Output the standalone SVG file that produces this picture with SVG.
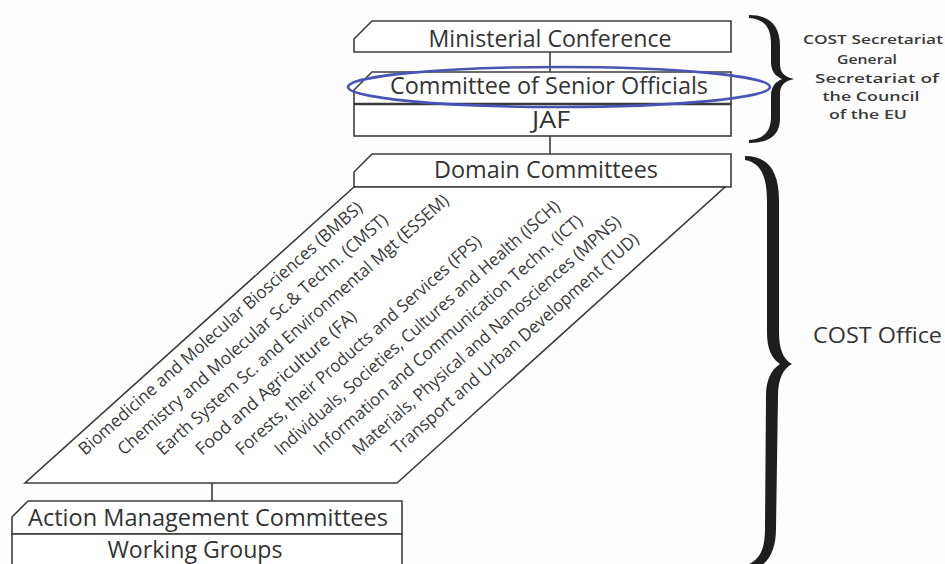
<svg xmlns="http://www.w3.org/2000/svg" width="945" height="564" viewBox="0 0 945 564">
  <style>
    .box { fill: #ffffff; stroke: #3c3c3c; stroke-width: 1.6; stroke-linejoin: miter; }
    .conn { stroke: #3c3c3c; stroke-width: 1.6; fill: none; }
    .lbl { font-family: "Open Sans", "Noto Sans", "Liberation Sans", sans-serif; font-size: 23px; fill: #333333; text-anchor: middle; }
    .diag { font-family: "Open Sans", "Noto Sans", "Liberation Sans", sans-serif; font-size: 17.5px; fill: #3a3a3a; }
    .side { font-family: "Open Sans", "Noto Sans", "Liberation Sans", sans-serif; font-size: 13px; font-weight: 600; fill: #3a3a3a; text-anchor: middle; }
    .office { font-family: "Open Sans", "Noto Sans", "Liberation Sans", sans-serif; font-size: 22px; fill: #333333; }
    .brace { fill: #1e1e1e; }
  </style>
  <rect x="0" y="0" width="945" height="564" fill="#fdfdfd"/>

  <g id="connectors">
    <line class="conn" x1="550" y1="52" x2="550" y2="72"/>
    <line class="conn" x1="550" y1="136" x2="550" y2="154"/>
    <line class="conn" x1="212" y1="483" x2="212" y2="501"/>
  </g>

  <g id="node-ministerial-conference">
    <path class="box" d="M372,21 H731 V52 H354 V39 Z"/>
    <text class="lbl" x="550" y="47" textLength="243" lengthAdjust="spacingAndGlyphs">Ministerial Conference</text>
  </g>

  <g id="node-committee-senior-officials">
    <path class="box" d="M372,72 H731 V104 H354 V90 Z"/>
    <text class="lbl" x="549" y="94" textLength="318" lengthAdjust="spacingAndGlyphs">Committee of Senior Officials</text>
  </g>

  <g id="node-jaf">
    <rect class="box" x="354" y="104" width="377" height="32"/>
    <line x1="354" y1="104" x2="731" y2="104" stroke="#3c3c3c" stroke-width="2.6"/>
    <text class="lbl" x="551" y="128" textLength="38" lengthAdjust="spacingAndGlyphs">JAF</text>
  </g>

  <g id="node-domain-committees">
    <path class="box" d="M372,154 H731 V187 H354 V172 Z"/>
    <text class="lbl" x="546" y="178" textLength="224" lengthAdjust="spacingAndGlyphs">Domain Committees</text>
  </g>

  <g id="node-domains">
    <path class="box" d="M354,187 L725,187 L397,483 L25,483 Z"/>
    <text class="diag" x="85" y="456" transform="rotate(-41.5 85 456)" textLength="372" lengthAdjust="spacingAndGlyphs">Biomedicine and Molecular Biosciences (BMBS)</text>
    <text class="diag" x="124" y="456" transform="rotate(-41.5 124 456)" textLength="354" lengthAdjust="spacingAndGlyphs">Chemistry and Molecular Sc.&amp; Techn. (CMST)</text>
    <text class="diag" x="163" y="456" transform="rotate(-41.5 163 456)" textLength="383" lengthAdjust="spacingAndGlyphs">Earth System Sc. and Environmental Mgt (ESSEM)</text>
    <text class="diag" x="202" y="456" transform="rotate(-41.5 202 456)" textLength="208" lengthAdjust="spacingAndGlyphs">Food and Agriculture (FA)</text>
    <text class="diag" x="242" y="456" transform="rotate(-41.5 242 456)" textLength="321" lengthAdjust="spacingAndGlyphs">Forests, their Products and Services (FPS)</text>
    <text class="diag" x="281" y="456" transform="rotate(-41.5 281 456)" textLength="374" lengthAdjust="spacingAndGlyphs">Individuals, Societies, Cultures and Health (ISCH)</text>
    <text class="diag" x="320" y="456" transform="rotate(-41.5 320 456)" textLength="352" lengthAdjust="spacingAndGlyphs">Information and Communication Techn. (ICT)</text>
    <text class="diag" x="359" y="456" transform="rotate(-41.5 359 456)" textLength="351" lengthAdjust="spacingAndGlyphs">Materials, Physical and Nanosciences (MPNS)</text>
    <text class="diag" x="398" y="455" transform="rotate(-41.5 398 455)" textLength="323" lengthAdjust="spacingAndGlyphs">Transport and Urban Development (TUD)</text>
  </g>

  <g id="node-action-management-committees">
    <path class="box" d="M28,501 H402 V534 H12 V517 Z"/>
    <text class="lbl" x="208" y="526" textLength="360" lengthAdjust="spacingAndGlyphs">Action Management Committees</text>
  </g>

  <g id="node-working-groups">
    <rect class="box" x="12" y="534" width="390" height="40"/>
    <text class="lbl" x="195" y="558" textLength="175" lengthAdjust="spacingAndGlyphs">Working Groups</text>
  </g>

  <ellipse id="highlight" cx="559" cy="87" rx="211" ry="20" fill="none" stroke="#4a54b4" stroke-width="2.6"/>

  <g id="brace-secretariat">
    <path class="brace" d="M749,15 C769,15 780,25 780,46 L780,64 C780,72 784,77 794,79 C784,81 780,86 780,94 L780,118 C780,135 770,143 749,143 L749,140 C764,139 771,131 771,117 L771,96 C771,87 775,82 782,79 C775,76 771,71 771,62 L771,44 C771,27 764,19 749,18 Z"/>
  </g>
  <g id="label-secretariat">
    <text class="side" x="873" y="44" textLength="140" lengthAdjust="spacingAndGlyphs">COST Secretariat</text>
    <text class="side" x="867" y="64" textLength="60" lengthAdjust="spacingAndGlyphs">General</text>
    <text class="side" x="877" y="83" textLength="124" lengthAdjust="spacingAndGlyphs">Secretariat of</text>
    <text class="side" x="871" y="101" textLength="97" lengthAdjust="spacingAndGlyphs">the Council</text>
    <text class="side" x="868" y="119" textLength="78" lengthAdjust="spacingAndGlyphs">of the EU</text>
  </g>

  <g id="brace-office">
    <path class="brace" d="M745,156 C767,156 779,170 779,200 L779,332 C779,349 783,359 792,364 C783,369 778,379 778,396 L776,528 C776,552 768,566 748,572 L745,566 C760,560 765,550 765,528 L766,396 C766,380 771,370 780,364 C771,358 767,348 767,332 L767,202 C767,176 761,163 745,160 Z"/>
  </g>
  <text id="label-office" class="office" x="813" y="343" textLength="129" lengthAdjust="spacingAndGlyphs">COST Office</text>
</svg>
